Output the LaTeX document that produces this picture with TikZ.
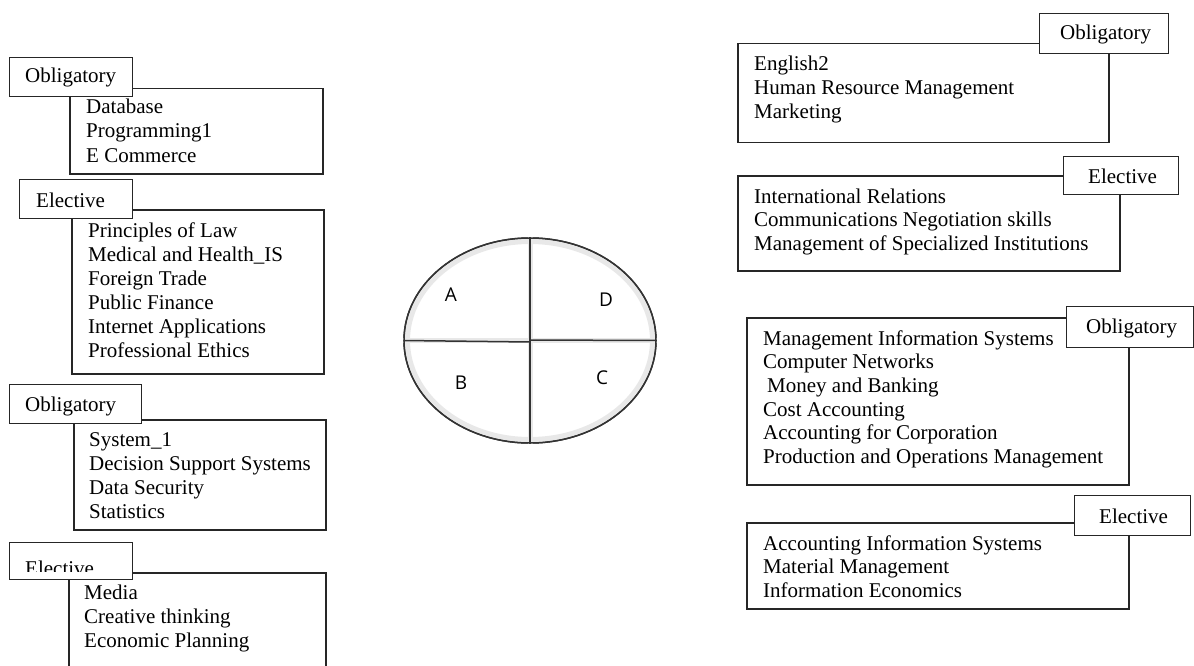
\documentclass[tikz,border=0pt]{standalone}
\usepackage{fontspec}
\setmainfont{Liberation Serif}
\newfontfamily\letterfont{Open Sans}
\usetikzlibrary{shapes.geometric}
\begin{document}
\begin{tikzpicture}[x=1pt,y=-1pt,
  mainbox/.style={draw=black!85, line width=1.5pt, fill=white, inner sep=0pt, anchor=north west},
  tagbox/.style={draw=black!85, line width=1.3pt, fill=white, inner sep=0pt, anchor=north west},
  txt/.style={anchor=base west, inner sep=0pt, font=\fontsize{21}{24}\selectfont},
  letter/.style={inner sep=0pt, font=\letterfont\fontsize{19}{22}\selectfont},
  divider/.style={draw=black!80, line width=1.5pt},
  halo/.style={draw=black!9, line width=5pt}
]
\clip (0,0) rectangle (1194,666);
\fill[white] (0,0) rectangle (1194,666);

% ---------------- Left column ----------------
% group 1
\node[mainbox, minimum width=253pt, minimum height=85pt] (m1) at (69,88) {};
\node[tagbox, minimum width=123pt, minimum height=39pt] (t1) at (9,57) {};
\node[txt] (t1x) at (25,83) {Obligatory};
\foreach \t [count=\i from 0] in {Database, Programming1, E Commerce}
  \node[txt] (a\i) at (86,114+24*\i) {\t};

% group 2
\node[mainbox, minimum width=252pt, minimum height=164pt] (m2) at (71,209) {};
\node[tagbox, minimum width=113pt, minimum height=39pt] (t2) at (19,179) {};
\node[txt] (t2x) at (36,207) {Elective};
\foreach \t [count=\i from 0] in {Principles of Law, Medical and Health\_IS, Foreign Trade, Public Finance, Internet Applications, Professional Ethics}
  \node[txt] (b\i) at (88,237+24*\i) {\t};

% group 3
\node[mainbox, minimum width=252pt, minimum height=110pt] (m3) at (73,419) {};
\node[tagbox, minimum width=132pt, minimum height=39pt] (t3) at (9,384) {};
\node[txt] (t3x) at (25,411) {Obligatory};
\foreach \t [count=\i from 0] in {System\_1, Decision Support Systems, Data Security, Statistics}
  \node[txt] (c\i) at (89,446+24*\i) {\t};

% group 4
\node[mainbox, minimum width=257pt, minimum height=130pt] (m4) at (68,572) {};
\node[tagbox, minimum width=123pt, minimum height=37pt] (t4) at (9,542) {};
\begin{scope}
  \clip (10,543) rectangle (131,571.5);
  \node[txt] (t4x) at (25,575) {Elective};
\end{scope}
\foreach \t [count=\i from 0] in {Media, Creative thinking, Economic Planning}
  \node[txt] (d\i) at (84,599+24*\i) {\t};

% ---------------- Centre ellipse ----------------
\node[ellipse, draw=black!80, line width=1.5pt, fill=white, minimum width=252pt, minimum height=205pt, inner sep=0pt] (circ) at (530,340.5) {};
\draw[halo] (530,340.5) ellipse [x radius=122.5, y radius=99];
\draw[halo] (circ.north) -- (circ.south);
\draw[halo] (circ.west) -- (circ.east);
\draw[black!80, line width=1.5pt] (530,340.5) ellipse [x radius=126, y radius=102.5];
\draw[divider] (circ.north) -- (circ.south);
\draw[divider] (circ.west) -- ([yshift=-1.5pt]circ.center);
\draw[divider] ([yshift=0.5pt]circ.center) -- (circ.east);
\node[letter] (qa) at (451,295) {A};
\node[letter] (qd) at (606,300) {D};
\node[letter] (qb) at (461,383) {B};
\node[letter] (qc) at (602,378) {C};

% ---------------- Right column ----------------
% group 5
\node[mainbox, minimum width=371pt, minimum height=99pt] (m5) at (737,43) {};
\node[tagbox, minimum width=129pt, minimum height=40pt] (t5) at (1039,13) {};
\node[txt] (t5x) at (1060,40) {Obligatory};
\foreach \t [count=\i from 0] in {English2, Human Resource Management, Marketing}
  \node[txt] (e\i) at (754,71+24*\i) {\t};

% group 6
\node[mainbox, minimum width=382pt, minimum height=95pt] (m6) at (737,175) {};
\node[tagbox, minimum width=115pt, minimum height=38pt] (t6) at (1063,156) {};
\node[txt] (t6x) at (1088,183) {Elective};
\foreach \t [count=\i from 0] in {International Relations, Communications Negotiation skills, Management of Specialized Institutions}
  \node[txt] (f\i) at (754,203+23.5*\i) {\t};

% group 7
\node[mainbox, minimum width=382pt, minimum height=167pt] (m7) at (746,317) {};
\node[tagbox, minimum width=127pt, minimum height=41pt] (t7) at (1066,306) {};
\node[txt] (t7x) at (1086,333) {Obligatory};
\foreach \t [count=\i from 0] in {Management Information Systems, Computer Networks, {\hspace*{4pt}Money and Banking}, Cost Accounting, Accounting for Corporation, Production and Operations Management}
  \node[txt] (g\i) at (763,345+23.7*\i) {\t};

% group 8
\node[mainbox, minimum width=382pt, minimum height=86pt] (m8) at (746,522) {};
\node[tagbox, minimum width=116pt, minimum height=40pt] (t8) at (1074,495) {};
\node[txt] (t8x) at (1099,523) {Elective};
\foreach \t [count=\i from 0] in {Accounting Information Systems, Material Management, Information Economics}
  \node[txt] (h\i) at (763,550+23.5*\i) {\t};
\end{tikzpicture}
\end{document}
